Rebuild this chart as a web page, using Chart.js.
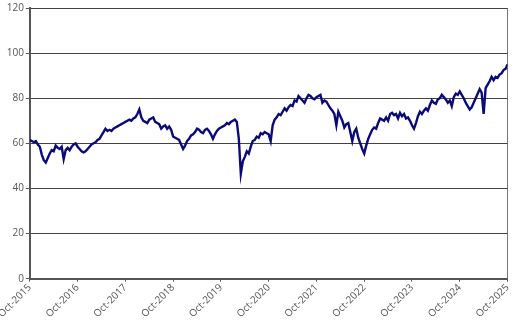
<!DOCTYPE html>
<html>
<head>
<meta charset="utf-8">
<script src="https://cdn.jsdelivr.net/npm/chart.js@4.4.1/dist/chart.umd.min.js"></script>
<style>
  html, body { margin: 0; padding: 0; background: #fff; }
  #wrap { width: 516px; height: 320px; }
</style>
</head>
<body>
<div id="wrap"><canvas id="indexChart"></canvas></div>
<script>
// Semi-monthly index level, Oct-2015 .. Oct-2025 (24 points per year)
const yearTicks = ['Oct-2015', 'Oct-2016', 'Oct-2017', 'Oct-2018', 'Oct-2019', 'Oct-2020',
                   'Oct-2021', 'Oct-2022', 'Oct-2023', 'Oct-2024', 'Oct-2025'];
const pointsPerYear = 24;

const levels = [
    // Oct-2015
    61.5, 61, 60.5, 61, 59.5, 58.5, 55, 52.5, 51.5, 53.5, 55.5, 57, 56.5, 59, 58, 57.5,
    58.5, 53, 57, 58, 57, 58.5, 59.5, 60,
    // Oct-2016
    58.5, 57.5, 56.5, 56, 56.5, 57.5, 58.5, 59.5, 60, 60.5, 61.5, 62, 63.5, 65, 66.5, 65.5,
    66, 65.5, 66.5, 67, 67.5, 68, 68.5, 69,
    // Oct-2017
    69.5, 70, 70.5, 70, 71, 71.5, 73, 75, 71.5, 70, 69.5, 69, 70.5, 71, 71.5, 69.5,
    69, 68.5, 66.5, 67.5, 68, 66.5, 67.5, 66,
    // Oct-2018
    63, 62.5, 62, 61.5, 59.5, 57.5, 59, 61, 62, 63.5, 64, 65, 66.5, 66, 65, 64.5,
    66, 66.5, 65.5, 64, 62, 64, 65.5, 66.5,
    // Oct-2019
    67, 67.5, 68, 69, 68.5, 69.5, 70, 70.5, 69.5, 62, 46.5, 52, 54, 56.5, 55.5, 58.5,
    61, 61.5, 63, 62.5, 64.5, 64, 65, 64.5,
    // Oct-2020
    64, 61, 68, 70.5, 71.5, 73, 72.5, 74, 75.5, 74.5, 76, 77, 76.5, 79, 78.5, 81,
    80, 79, 78, 80, 81.5, 81, 80, 79.5,
    // Oct-2021
    80.5, 81, 81.5, 78, 79, 78.5, 77, 75.5, 74.5, 73, 68, 74, 72, 70, 67, 68.5,
    69, 65, 61, 65, 66.5, 62.5, 60, 57.5,
    // Oct-2022
    55.5, 59, 62, 64, 66, 67, 66.5, 69, 71, 70.5, 70, 71.5, 70, 73, 73.5, 72.5,
    73, 71, 73.5, 72, 73, 71, 71.5, 70,
    // Oct-2023
    68, 66.5, 69, 72, 74, 73, 74.5, 75.5, 74.5, 77, 79, 78, 77.5, 79.5, 80, 81.5,
    80.5, 79.5, 78, 79, 76.5, 80.5, 82, 81.5,
    // Oct-2024
    83, 81.5, 80, 78, 76.5, 75, 76, 78, 80, 82, 84, 82.5, 73, 84.5, 86, 87.5,
    89.5, 88, 89.5, 89, 90.5, 91, 92.5, 93,
    // Oct-2025
    95
];

const yTicks = [0, 20, 40, 60, 80, 100, 120];

document.addEventListener('DOMContentLoaded', () => {
    const ctx = document.getElementById('indexChart').getContext('2d');
    const lastYear = yearTicks.length - 1;

    new Chart(ctx, {
        type: 'line',
        data: {
            datasets: [{
                data: levels.map((v, i) => ({ x: i / pointsPerYear, y: v })),
                borderColor: '#0a0a78',
                borderWidth: 2.4,
                pointRadius: 0,
                tension: 0,
                fill: false
            }]
        },
        options: {
            responsive: true,
            maintainAspectRatio: false,
            animation: false,
            layout: { padding: { left: 0, right: 7, top: 1, bottom: 0 } },
            plugins: {
                legend: { display: false },
                tooltip: { enabled: false }
            },
            scales: {
                x: {
                    type: 'linear',
                    min: 0,
                    max: lastYear,
                    afterBuildTicks: axis => {
                        axis.ticks = yearTicks.map((_, i) => ({ value: i }));
                    },
                    ticks: {
                        autoSkip: false,
                        minRotation: 45,
                        maxRotation: 45,
                        padding: 0,
                        color: '#555',
                        font: { family: 'Open Sans', size: 10 },
                        callback: value => yearTicks[value]
                    },
                    grid: {
                        color: c => c.index === lastYear ? '#777' : 'rgba(0,0,0,0)',
                        tickColor: '#555',
                        tickLength: 3,
                        drawTicks: true
                    },
                    border: { color: '#555', width: 2 }
                },
                y: {
                    min: 0,
                    max: 120,
                    afterBuildTicks: axis => {
                        axis.ticks = yTicks.map(v => ({ value: v }));
                    },
                    ticks: {
                        color: '#555',
                        padding: 2,
                        font: { family: 'Open Sans', size: 10 }
                    },
                    grid: {
                        color: '#444',
                        lineWidth: 1,
                        tickLength: 4,
                        tickColor: '#555'
                    },
                    border: { color: '#555', width: 2 }
                }
            }
        }
    });
});
</script>
</body>
</html>
